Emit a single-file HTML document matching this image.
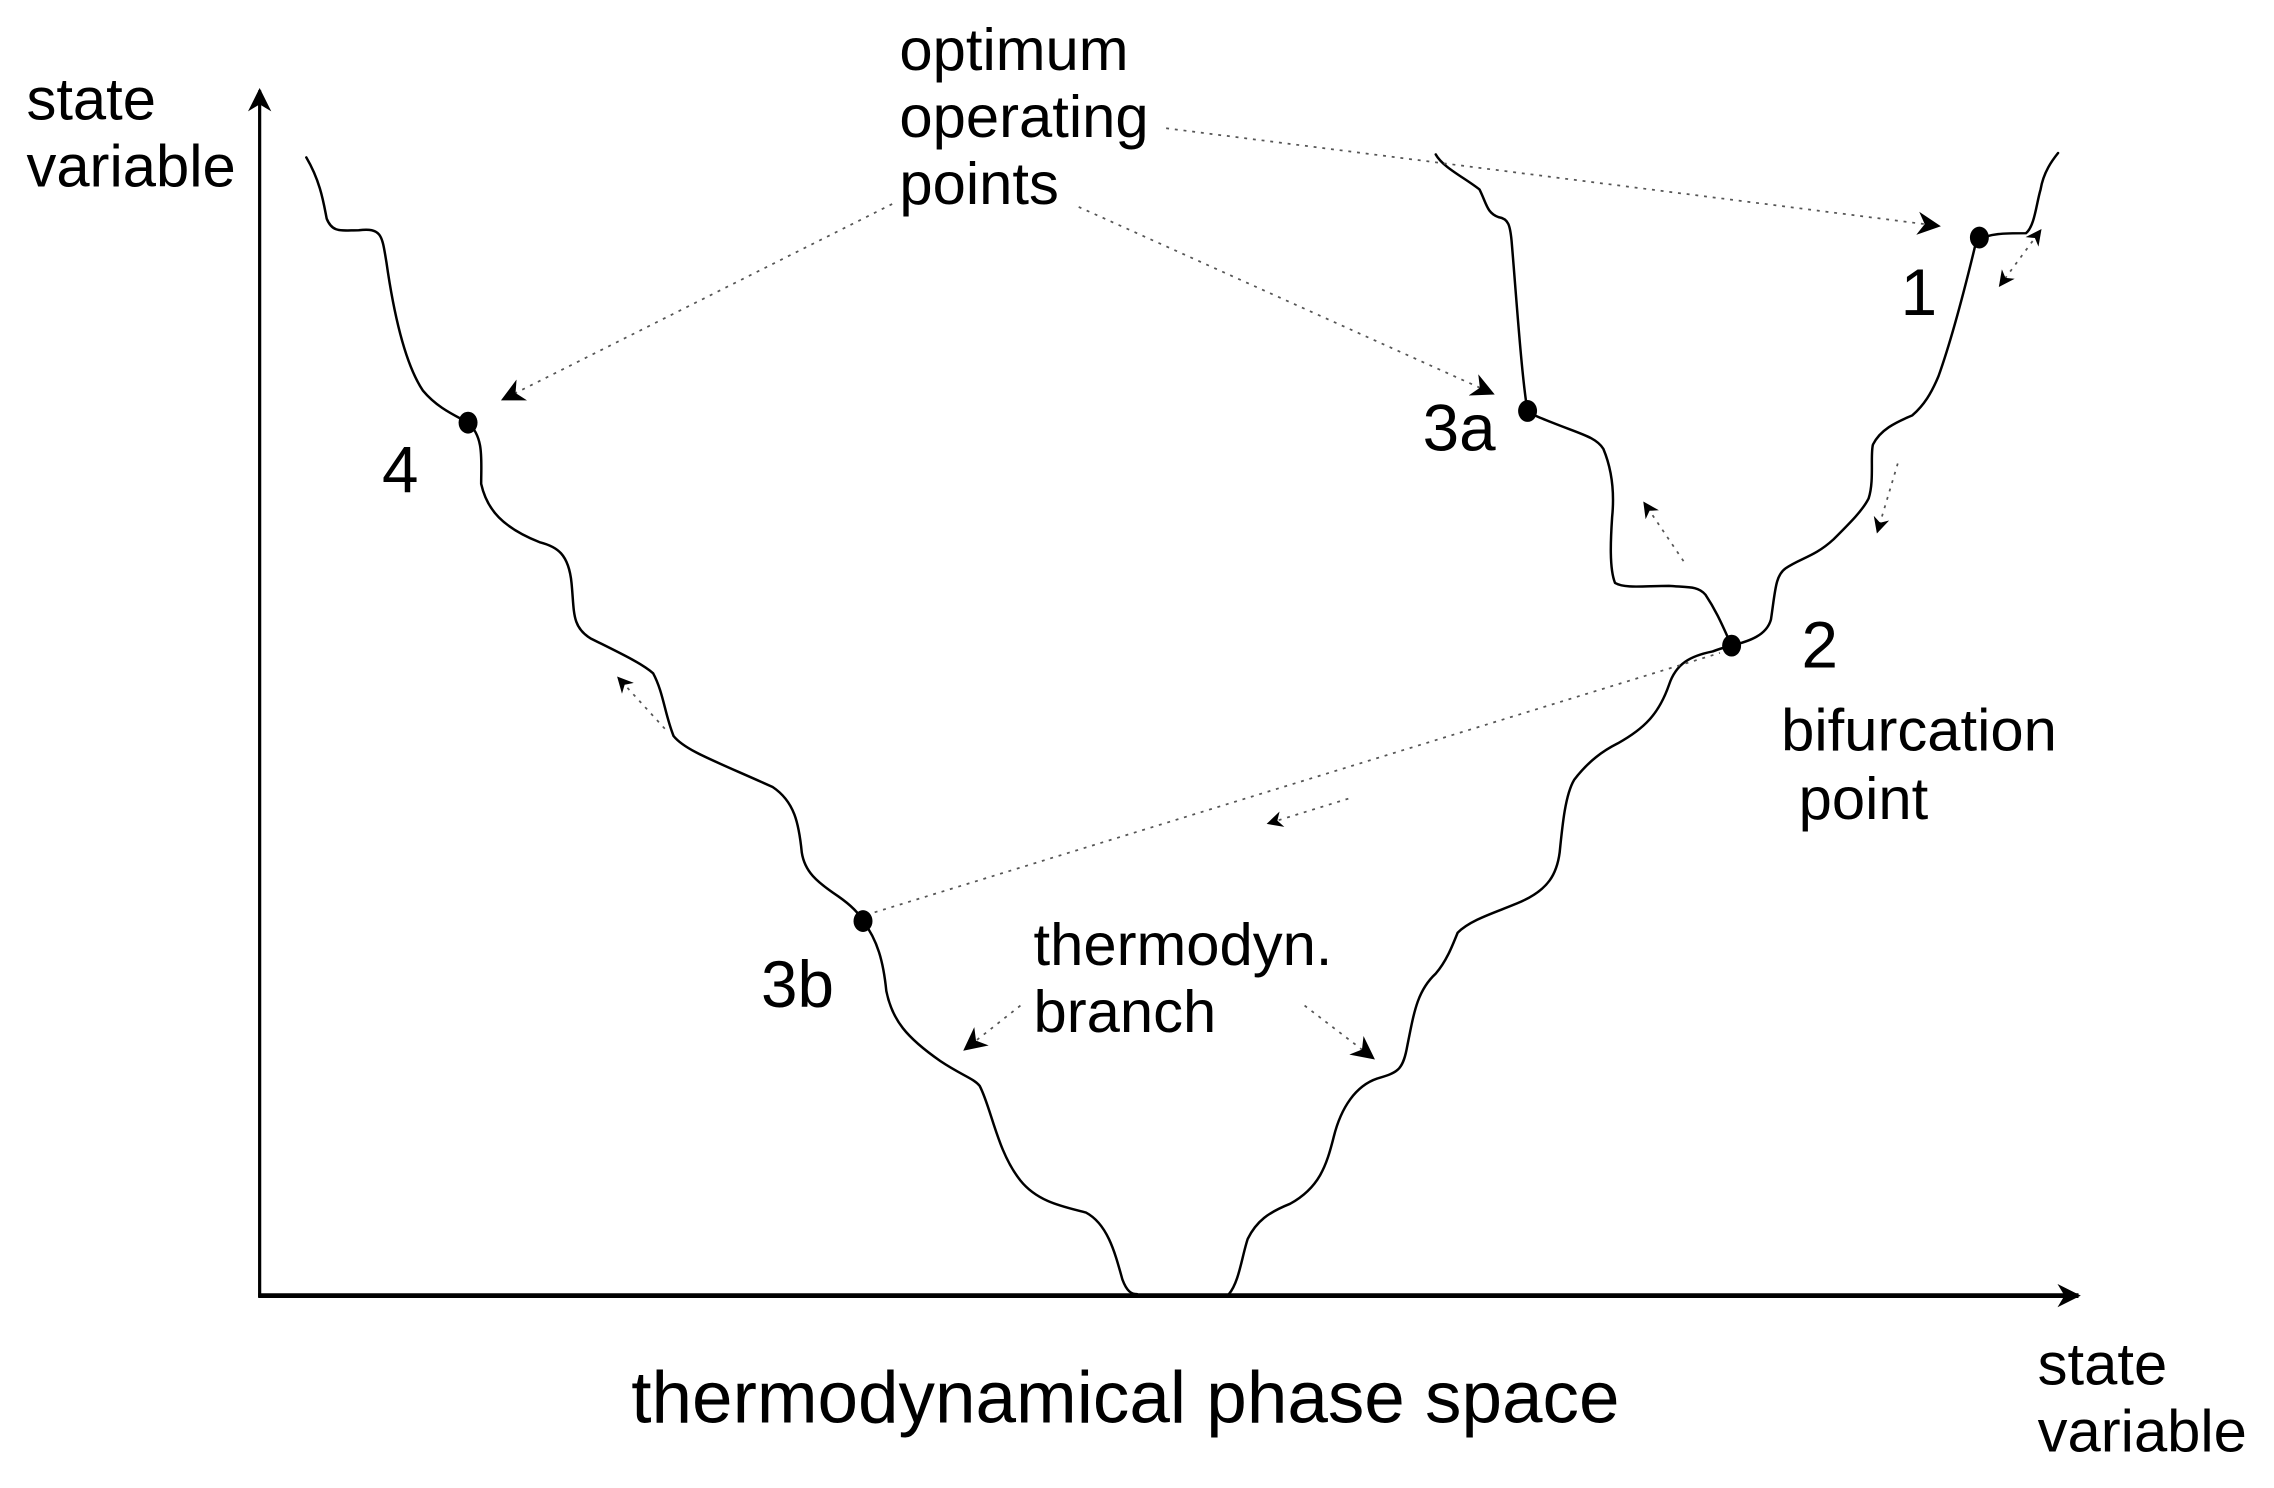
<!DOCTYPE html>
<html><head><meta charset="utf-8"><style>
html,body{margin:0;padding:0;background:#fff}
svg{display:block}
text{font-family:"Liberation Sans",Arial,sans-serif;fill:#000}
</style></head><body>
<svg width="2274" height="1488" viewBox="0 0 1560 1021" xmlns="http://www.w3.org/2000/svg">
<defs>
<marker id="ah" viewBox="0 0 10 10" refX="9" refY="5" markerWidth="16" markerHeight="16" markerUnits="userSpaceOnUse" orient="auto"><path d="M0,0 L10,5 L0,10 L3,5 z" fill="#000"/></marker>
<marker id="ahs" viewBox="0 0 10 10" refX="9" refY="5" markerWidth="11" markerHeight="11" markerUnits="userSpaceOnUse" orient="auto"><path d="M0,0 L10,5 L0,10 L3,5 z" fill="#000"/></marker>
<marker id="ahsr" viewBox="0 0 10 10" refX="1" refY="5" markerWidth="11" markerHeight="11" markerUnits="userSpaceOnUse" orient="auto"><path d="M10,0 L0,5 L10,10 L7,5 z" fill="#000"/></marker>
</defs>
<line x1="178" y1="890" x2="178" y2="62" stroke="#000" stroke-width="2.2" marker-end="url(#ah)"/>
<line x1="177" y1="889" x2="1426" y2="889" stroke="#000" stroke-width="3.2" marker-end="url(#ah)"/>
<g fill="none" stroke="#000" stroke-width="1.7" stroke-linejoin="round" stroke-linecap="round">
<path d="M210,108 C220,125 222,140 224,150 C228,160 234,158 246,158 C262,156 262,162 265,180 C270,215 278,250 290,268 C300,280 312,285 321,290 C332,300 330,315 330,332 C334,350 345,362 370,372 C382,375 390,380 392,400 C394,420 392,430 405,438 C425,448 440,455 448,462 C455,475 456,490 462,505 C470,515 490,522 530,540 C545,550 548,565 550,585 C552,598 560,605 575,615 C585,622 590,628 592,632 C602,645 606,660 608,680 C612,700 622,712 645,728 C660,738 668,740 672,745 C680,760 684,790 700,810 C712,825 730,828 745,832 C760,840 765,860 770,878 C773,886 776,888 780,888"/>
<path d="M843,888 C850,880 852,862 856,850 C862,838 870,832 885,826 C905,815 910,800 915,780 C920,760 930,745 945,740 C958,736 962,735 965,720 C970,695 972,680 985,668 C992,660 996,650 1000,640 C1010,630 1030,625 1045,618 C1062,610 1068,600 1070,585 C1072,565 1074,545 1080,535 C1090,522 1100,515 1110,510 C1128,500 1138,490 1145,470 C1150,455 1160,450 1175,447 C1180,445 1184,444 1188,443 C1200,440 1212,436 1215,425 C1218,405 1218,395 1225,390 C1235,383 1245,382 1258,370 C1270,358 1278,350 1282,342 C1286,330 1283,312 1285,305 C1290,295 1300,290 1312,285 C1320,278 1325,270 1330,258 C1340,230 1350,190 1356,165 C1365,160 1375,160 1390,160 C1396,155 1397,140 1400,130 C1402,118 1408,110 1412,105"/>
<path d="M1188,443 C1182,430 1178,420 1170,408 C1165,402 1158,403 1145,402 C1128,402 1115,404 1108,400 C1104,390 1105,370 1106,355 C1108,335 1105,320 1100,308 C1095,300 1085,298 1065,290 C1055,286 1050,284 1048,282 C1044,260 1040,200 1037,165 C1036,155 1035,150 1028,149 C1020,146 1020,140 1015,130 C1005,122 990,115 985,106"/>
</g>
<g fill="#000">
<ellipse cx="321" cy="290" rx="6.5" ry="7.5"/>
<ellipse cx="1048" cy="282" rx="6.5" ry="7.5"/>
<ellipse cx="1358" cy="163" rx="6.5" ry="7.5"/>
<ellipse cx="1188" cy="443" rx="6.5" ry="7.5"/>
<ellipse cx="592" cy="632" rx="6.5" ry="7.5"/>
</g>
<g fill="none" stroke="#555" stroke-width="1.2" stroke-dasharray="2,4">
<line x1="800" y1="88" x2="1330" y2="155" marker-end="url(#ah)"/>
<line x1="612" y1="140" x2="345" y2="274" marker-end="url(#ah)"/>
<line x1="740" y1="142" x2="1024" y2="270" marker-end="url(#ah)"/>
<line x1="600" y1="626" x2="1180" y2="448"/>
<line x1="456" y1="500" x2="424" y2="465" marker-end="url(#ahs)"/>
<line x1="1155" y1="385" x2="1128" y2="345" marker-end="url(#ahs)"/>
<line x1="925" y1="548" x2="870" y2="565" marker-end="url(#ahs)"/>
<line x1="1302" y1="318" x2="1288" y2="365" marker-end="url(#ahs)"/>
<line x1="1372" y1="196" x2="1400" y2="158" marker-start="url(#ahsr)" marker-end="url(#ahs)"/>
<line x1="700" y1="690" x2="662" y2="720" marker-end="url(#ah)"/>
<line x1="895" y1="690" x2="942" y2="726" marker-end="url(#ah)"/>
</g>
<g font-size="41">
<text x="18" y="82">state</text>
<text x="18" y="128">variable</text>
<text x="617" y="48">optimum</text>
<text x="617" y="94">operating</text>
<text x="617" y="140">points</text>
<text x="1222" y="515">bifurcation</text>
<text x="1234" y="562">point</text>
<text x="709" y="662">thermodyn.</text>
<text x="709" y="708">branch</text>
<text x="1398" y="950">state</text>
<text x="1398" y="996">variable</text>
</g>
<g font-size="45">
<text x="262" y="338">4</text>
<text x="976" y="309">3a</text>
<text x="1304" y="216">1</text>
<text x="1236" y="458">2</text>
<text x="522" y="691">3b</text>
</g>
<text x="433" y="976" font-size="50">thermodynamical phase space</text>
</svg>
</body></html>
